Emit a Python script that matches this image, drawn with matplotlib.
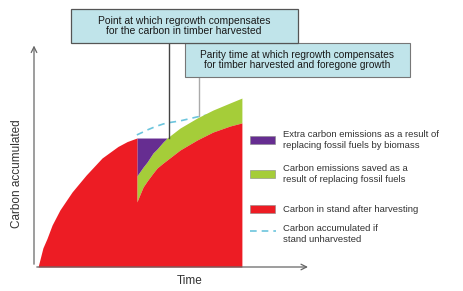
import matplotlib.pyplot as plt
from matplotlib.patches import Rectangle
from matplotlib.lines import Line2D

plt.rcParams['font.family'] = ['Liberation Sans', 'DejaVu Sans']

# courbe avant la coupe
t_avant = [0.15, 0.33, 0.48, 0.67, 0.96, 1.41, 1.93, 2.52, 3.11, 3.45, 3.81]
c_avant = [0.0, 0.86, 1.28, 1.89, 2.57, 3.38, 4.14, 4.91, 5.43, 5.65, 5.81]

# apres la coupe
t_apres = [3.81, 4.04, 4.19, 4.41, 4.56, 4.78, 4.93, 5.41, 6.04, 6.63, 7.26, 7.70]
c_stand = [2.93, 3.60, 3.87, 4.23, 4.46, 4.68, 4.82, 5.27, 5.72, 6.08, 6.35, 6.49]      # carbone dans le peuplement
c_vert = [4.10, 4.50, 4.73, 5.14, 5.32, 5.63, 5.81, 6.26, 6.71, 7.07, 7.39, 7.61]       # haut des emissions evitees
c_non_coupe = [5.95, 6.08, 6.17, 6.28, 6.35, 6.44, 6.49, 6.58, 6.76, 6.89, 7.05, 7.16]  # si non coupe

t_compense = 5.0   # repousse compense le bois recolte
t_parite = 6.11    # parite
c_parite = 6.8

legende = ["Extra carbon emissions as a result of\nreplacing fossil fuels by biomass",
           "Carbon emissions saved as a\nresult of replacing fossil fuels",
           "Carbon in stand after harvesting",
           "Carbon accumulated if\nstand unharvested"]

rouge = '#ed1c24'
vert = '#a5cd39'
violet = '#662d91'
bleu = '#6cc5dd'
boite = '#c0e4ea'

fig = plt.figure(figsize=(4.64, 2.91), dpi=100)
ax = fig.add_axes([34/464, 24/291, 270/464, 222/291])
ax.set_xlim(0, 10)
ax.set_ylim(0, 10)
ax.axis('off')

ax.plot(t_apres, c_non_coupe, ls=(0, (4, 3)), color=bleu, lw=1.2, zorder=1)
ax.fill_between(t_apres, c_stand, c_vert, color=vert, lw=0, zorder=2)
ax.fill_between(t_apres, c_vert, c_avant[-1], where=[c <= c_avant[-1] for c in c_vert],
                interpolate=True, color=violet, lw=0, zorder=2)
# rouge en un seul morceau (saut vertical a la coupe)
ax.fill_between(t_avant + t_apres, 0, c_avant + c_stand, color=rouge, lw=0, zorder=3)

# axes avec fleches
ax.annotate('', xy=(0, 10.1), xytext=(0, 0), annotation_clip=False,
            arrowprops=dict(arrowstyle='->', color='#666666', lw=0.9))
ax.annotate('', xy=(10.25, 0), xytext=(0, 0), annotation_clip=False,
            arrowprops=dict(arrowstyle='->', color='#666666', lw=0.9))

# lignes verticales vers les boites
ax.plot([t_compense, t_compense], [c_avant[-1], 10.09], color='#444444', lw=1.0, clip_on=False, zorder=4)
ax.plot([t_parite, t_parite], [c_parite, 8.56], color='#aaaaaa', lw=1.0, clip_on=False, zorder=4)

# boites
fig.patches.append(Rectangle((185/464, 1 - 77/291), 225/464, 34/291, transform=fig.transFigure,
                             facecolor=boite, edgecolor='#777777', lw=0.8))
fig.patches.append(Rectangle((71/464, 1 - 43/291), 227/464, 34/291, transform=fig.transFigure,
                             facecolor=boite, edgecolor='#555555', lw=0.9))
fig.text(184/464, 1 - 26/291, "Point at which regrowth compensates\nfor the carbon in timber harvested",
         ha='center', va='center', fontsize=7.5, color='#1a1a1a', linespacing=1.1)
fig.text(297/464, 1 - 60/291, "Parity time at which regrowth compensates\nfor timber harvested and foregone growth",
         ha='center', va='center', fontsize=7.3, color='#1a1a1a', linespacing=1.1)

# legende
couleurs = [violet, vert, rouge]
y_leg = [140, 174, 209]
for coul, y, txt in zip(couleurs, y_leg, legende[:3]):
    fig.patches.append(Rectangle((250/464, 1 - (y + 4)/291), 25/464, 8/291, transform=fig.transFigure,
                                 facecolor=coul, edgecolor='#888888', lw=0.4))
    fig.text(283/464, 1 - y/291, txt, ha='left', va='center', fontsize=6.8, color='#333333', linespacing=1.15)
fig.lines.append(Line2D([250/464, 276/464], [1 - 231/291, 1 - 231/291], transform=fig.transFigure,
                        color=bleu, lw=1.2, ls=(0, (4, 3))))
fig.text(283/464, 1 - 234/291, legende[3], ha='left', va='center', fontsize=6.8, color='#333333', linespacing=1.15)

fig.text(17/464, 1 - 174/291, "Carbon accumulated", rotation=90, ha='center', va='center', fontsize=8.5, color='#333333')
fig.text(190/464, 1 - 281/291, "Time", ha='center', va='center', fontsize=8.5, color='#333333')

fig.savefig('out.png', dpi=100)
